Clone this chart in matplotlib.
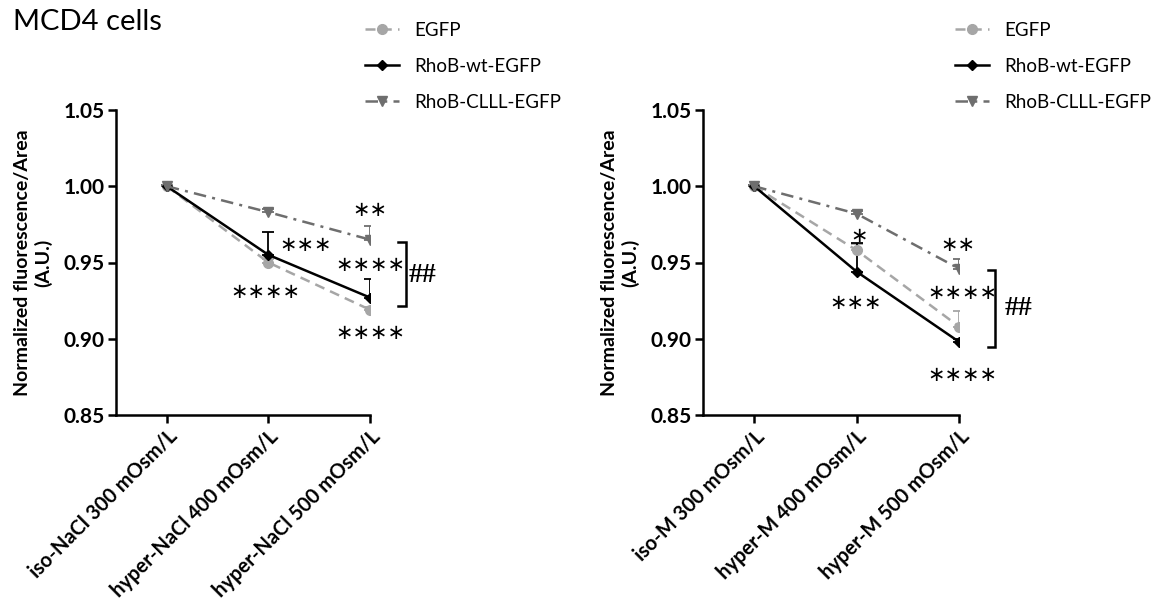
import matplotlib
matplotlib.use("Agg")
import matplotlib.pyplot as plt
from matplotlib.lines import Line2D

plt.rcParams['font.family'] = ['Lato', 'DejaVu Sans']

# ---- data ----
categories_nacl = ["iso-NaCl 300 mOsm/L", "hyper-NaCl 400 mOsm/L", "hyper-NaCl 500 mOsm/L"]
categories_m = ["iso-M 300 mOsm/L", "hyper-M 400 mOsm/L", "hyper-M 500 mOsm/L"]
series_names = ["EGFP", "RhoB-wt-EGFP", "RhoB-CLLL-EGFP"]

nacl_egfp = [1.000, 0.950, 0.919]
nacl_wt = [1.000, 0.955, 0.927]
nacl_clll = [1.000, 0.983, 0.965]
nacl_egfp_err = [0.001, 0.002, 0.002]
nacl_wt_err = [0.001, 0.015, 0.012]
nacl_clll_err = [0.001, 0.002, 0.009]

m_egfp = [1.000, 0.958, 0.908]
m_wt = [1.000, 0.944, 0.898]
m_clll = [1.000, 0.982, 0.946]
m_egfp_err = [0.001, 0.004, 0.010]
m_wt_err = [0.001, 0.019, 0.002]
m_clll_err = [0.001, 0.002, 0.006]

yticks = [0.85, 0.90, 0.95, 1.00, 1.05]

styles = [
    dict(color="#a6a6a6", ls=(0, (4, 2.5)), marker="o", ms=7, lw=1.8),
    dict(color="#000000", ls="-", marker="D", ms=5.5, lw=1.8),
    dict(color="#6e6e6e", ls=(0, (5, 2.5, 1.2, 2.5)), marker="v", ms=7, lw=1.8),
]

W, H = 1165, 604
fig = plt.figure(figsize=(W / 100, H / 100), dpi=100)

def fx(px):
    return px / W

def fy(py):
    return 1 - py / H

ax1 = fig.add_axes([fx(116), fy(415), fx(370 - 116), fy(110) - fy(415)])
ax2 = fig.add_axes([fx(703), fy(415), fx(959 - 703), fy(110) - fy(415)])

def draw(ax, cats, vals, errs):
    x = list(range(len(cats)))
    for v, e, st in zip(vals, errs, styles):
        ax.errorbar(x, v, yerr=[[0] * len(e), e], color=st["color"], ecolor=st["color"],
                    elinewidth=1.3, capsize=4, capthick=1.3, ls="none", zorder=2)
        ax.plot(x, v, color=st["color"], ls=st["ls"], marker=st["marker"],
                ms=st["ms"], lw=st["lw"], zorder=3)
    ax.set_xlim(-0.5, 2)
    ax.set_ylim(0.85, 1.05)
    ax.set_yticks(yticks)
    ax.set_yticklabels([f"{t:.2f}" for t in yticks], fontsize=15, fontweight="bold")
    ax.set_xticks(x)
    ax.set_xticklabels(cats, rotation=45, ha="right", rotation_mode="anchor",
                       fontsize=14.5, fontweight="bold")
    for s in ["top", "right"]:
        ax.spines[s].set_visible(False)
    for s in ["left", "bottom"]:
        ax.spines[s].set_linewidth(1.8)
    ax.tick_params(width=1.8, length=6, pad=2)
    ax.set_ylabel("Normalized fluorescence/Area\n(A.U.)", fontsize=14,
                  fontweight="bold", labelpad=8)

draw(ax1, categories_nacl, [nacl_egfp, nacl_wt, nacl_clll],
     [nacl_egfp_err, nacl_wt_err, nacl_clll_err])
draw(ax2, categories_m, [m_egfp, m_wt, m_clll],
     [m_egfp_err, m_wt_err, m_clll_err])

star_kw = dict(fontsize=15, family="DejaVu Sans", ha="center", va="center", zorder=5)

def stars(ax, x, y, n):
    ax.text(x, y, "\u2217" * n, **star_kw)

# left annotations
stars(ax1, 1.37, 0.9615, 3)
stars(ax1, 0.97, 0.9307, 4)
stars(ax1, 2.0, 0.9844, 2)
stars(ax1, 2.0, 0.9484, 4)
stars(ax1, 2.0, 0.9038, 4)
# right annotations
stars(ax2, 1.02, 0.9674, 1)
stars(ax2, 0.99, 0.9234, 3)
stars(ax2, 1.99, 0.9615, 2)
stars(ax2, 2.03, 0.930, 4)
stars(ax2, 2.03, 0.8762, 4)

def bracket(ax, x, y0, y1, xt, tx, ty):
    ax.plot([xt, x, x, xt], [y1, y1, y0, y0], color="black", lw=1.8,
            clip_on=False, solid_joinstyle="miter")
    ax.text(tx, ty, "##", fontsize=20, family="Liberation Serif", fontweight="bold",
            ha="left", va="center", clip_on=False)

bracket(ax1, 2.35, 0.9215, 0.9634, 2.28, 2.38, 0.9418)
bracket(ax2, 2.35, 0.8946, 0.945, 2.28, 2.45, 0.920)

fig.text(fx(13), fy(22), "MCD4 cells", fontsize=21, ha="left", va="center")

handles = [Line2D([], [], color=st["color"], ls=st["ls"], marker=st["marker"],
                  ms=st["ms"], lw=st["lw"]) for st in styles]
for lx in (365, 955):
    fig.legend(handles, series_names, loc="upper left",
               bbox_to_anchor=(fx(lx), fy(22)), frameon=False, fontsize=13.5,
               handlelength=1.8, handletextpad=0.8, labelspacing=1.0,
               borderaxespad=0, borderpad=0)

fig.savefig("out.png", dpi=100)
